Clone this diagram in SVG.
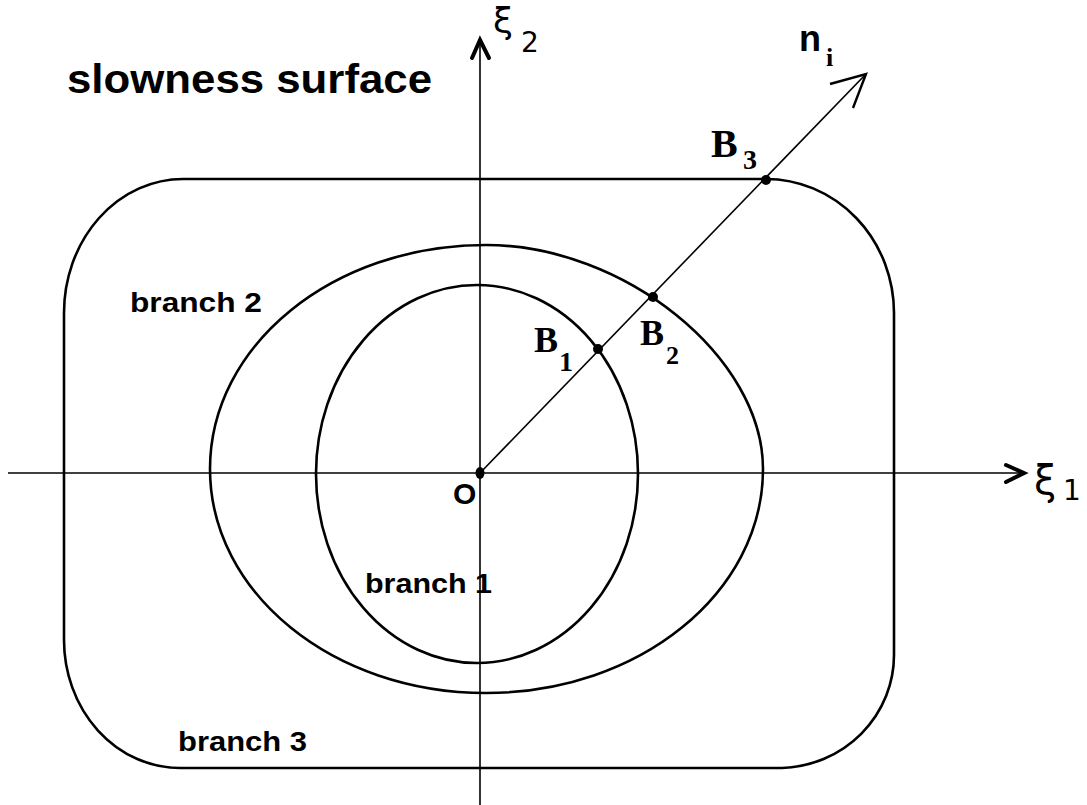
<svg xmlns="http://www.w3.org/2000/svg" width="1087" height="805" viewBox="0 0 1087 805">
<style>
.axis{stroke:#000;stroke-width:1.6;fill:none}
.curve{stroke:#000;stroke-width:2.6;fill:none}
.head{stroke:#000;stroke-width:4;fill:none;stroke-linecap:round;stroke-linejoin:miter}
.sans{font-family:"Liberation Sans",Arial,sans-serif;font-weight:bold;fill:#000}
.serif{font-family:"Liberation Serif","Times New Roman",serif;font-weight:bold;fill:#000}
.greek{font-family:"DejaVu Sans","Liberation Sans",sans-serif;fill:#000}
.dot{fill:#000}
</style>
<rect width="1087" height="805" fill="#fff"/>
<g id="connectors">
<line class="axis" x1="8" y1="473" x2="1024" y2="473"/>
<polyline class="head" points="1006,465 1024,473 1006,482"/>
<line class="axis" x1="480" y1="805" x2="480" y2="40"/>
<polyline class="head" points="472,58 480,40 489,58"/>
<line class="axis" x1="480" y1="473" x2="866" y2="74"/>
<polyline class="axis" style="stroke-width:2.4" points="830,84 866,74 853,108"/>
</g>
<g id="branch3">
<path class="curve" d="M183,179 L766,179 A128,134 0 0 1 894,313 L894,655 A116,113 0 0 1 782,768 L180,768 A116,128 0 0 1 64,640 L64,313 A119,134 0 0 1 183,179 Z"/>
<text class="sans" x="178" y="751" font-size="27" textLength="129" lengthAdjust="spacingAndGlyphs">branch 3</text>
</g>
<g id="branch2">
<path class="curve" d="M763,469 C763,357 624,245 486,245 C333,245 210,345 210,469 C210,593 333,693 486,693 C639,693 763,593 763,469 Z"/>
<text class="sans" x="130" y="312" font-size="27" textLength="132" lengthAdjust="spacingAndGlyphs">branch  2</text>
</g>
<g id="branch1">
<ellipse class="curve" cx="477" cy="474" rx="161" ry="189"/>
<text class="sans" x="365" y="593" font-size="27" textLength="127" lengthAdjust="spacingAndGlyphs">branch 1</text>
</g>
<g id="title">
<text class="sans" x="67" y="93" font-size="40" textLength="365" lengthAdjust="spacingAndGlyphs">slowness surface</text>
</g>
<g id="origin">
<ellipse class="dot" cx="480" cy="473" rx="4.5" ry="6"/>
<text class="sans" x="453" y="504" font-size="30">O</text>
</g>
<g id="B1">
<circle class="dot" cx="598" cy="349" r="5"/>
<text class="serif" x="534" y="352" font-size="36">B</text>
<text class="serif" x="559" y="371" font-size="28">1</text>
</g>
<g id="B2">
<circle class="dot" cx="653" cy="297" r="5"/>
<text class="serif" x="640" y="345" font-size="36">B</text>
<text class="serif" x="666" y="364" font-size="26">2</text>
</g>
<g id="B3">
<circle class="dot" cx="766" cy="180" r="5"/>
<text class="serif" x="711" y="157" font-size="40">B</text>
<text class="serif" x="743" y="169" font-size="28">3</text>
</g>
<g id="ni">
<text class="sans" x="799" y="51" font-size="36">n</text>
<text class="serif" x="826" y="66" font-size="26">i</text>
</g>
<g id="xi2">
<text class="greek" x="493" y="33" font-size="36">ξ</text>
<text class="greek" x="521" y="52" font-size="28">2</text>
</g>
<g id="xi1">
<text class="greek" x="1034" y="494" font-size="40">ξ</text>
<text class="greek" x="1063" y="500" font-size="28">1</text>
</g>
</svg>
